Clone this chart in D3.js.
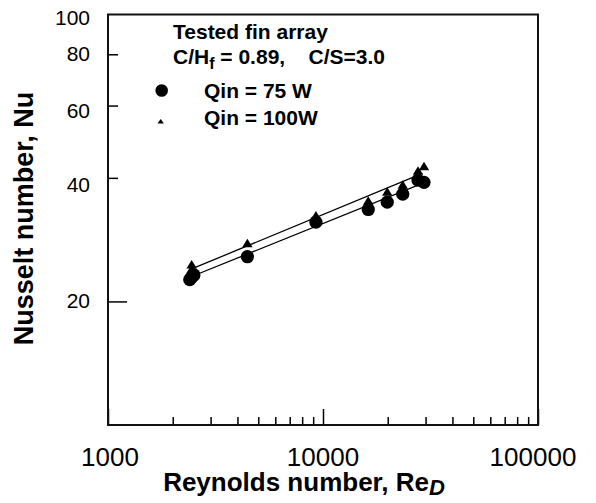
<!DOCTYPE html>
<html>
<head>
<meta charset="utf-8">
<script src="https://cdn.jsdelivr.net/npm/d3@7"></script>
<style>
  body { margin: 0; background: #fff; }
  svg { display: block; font-family: Arial, "Liberation Sans", sans-serif; }
</style>
</head>
<body>
<svg id="chart" width="596" height="503"></svg>
<script>
// data
const re75 = [2400, 2450, 2510, 4450, 9270, 16240, 19900, 23490, 27660, 29500]
const nu75 = [22.6, 22.9, 23.2, 25.7, 31.2, 33.5, 34.9, 36.5, 39.5, 39.0]
const re100 = [2450, 2450, 4450, 9270, 16240, 19900, 23490, 27660, 29500]
const nu100 = [24.6, 24.0, 27.7, 32.4, 35.2, 37.0, 38.5, 41.6, 42.7]
const fitRe = [2450, 29000]
const fitNu75 = [23.0, 38.8]
const fitNu100 = [24.0, 41.0]
const xTicks = [1000, 2000, 3000, 4000, 5000, 6000, 7000, 8000, 9000,
	10000, 20000, 30000, 40000, 50000, 60000, 70000, 80000, 90000, 100000]
const xLabels = [1000, 10000, 100000]
const yTicks = [20, 40, 60, 80]
const yLabels = [20, 40, 60, 80, 100]

const svg = d3.select("#chart")
const plotL = 108, plotR = 538, plotT = 14.5, plotB = 425

const x = d3.scaleLog().domain([1000, 100000]).range([plotL, plotR])
const y = d3.scaleLog().domain([10, 100]).range([plotB, plotT])

// x ticks, pointing inward
const xAxis = svg.append("g")
	.attr("transform", `translate(0,${plotB})`)
	.call(d3.axisBottom(x).tickValues(xTicks).tickSize(-8).tickFormat(""))
xAxis.select(".domain").remove()
xAxis.selectAll(".tick text").remove()
xAxis.selectAll(".tick line")
	.attr("stroke", "#000").attr("stroke-width", 1.5)
	.attr("y2", d => (xLabels.includes(d) ? -16 : -8))

// small nudges so the labels sit where the original put them
const xNudge = { 1000: 2, 10000: 0, 100000: -5 }
svg.append("g").attr("class", "xlabels").selectAll("text")
	.data(xLabels)
	.join("text")
	.attr("x", d => x(d) + xNudge[d])
	.attr("y", 466)
	.attr("text-anchor", "middle")
	.attr("font-size", 26)
	.attr("fill", "#000")
	.text(d => String(d))

// y ticks
const yAxis = svg.append("g")
	.attr("transform", `translate(${plotL},0)`)
	.call(d3.axisLeft(y).tickValues(yTicks).tickSize(-10).tickFormat(""))
yAxis.select(".domain").remove()
yAxis.selectAll(".tick text").remove()
yAxis.selectAll(".tick line")
	.attr("stroke", "#000").attr("stroke-width", 1.5)
	.attr("x2", d => (d === 20 ? 19 : 10))

const yNudge = { 100: 3, 80: -1, 60: 5, 40: 7, 20: -1 }
svg.append("g").selectAll("text")
	.data(yLabels)
	.join("text")
	.attr("x", 90)
	.attr("y", d => y(d) + yNudge[d])
	.attr("dy", "0.35em")
	.attr("text-anchor", "end")
	.attr("font-size", 21)
	.text(d => d)

// frame
svg.append("rect")
	.attr("x", plotL).attr("y", plotT)
	.attr("width", plotR - plotL).attr("height", plotB - plotT)
	.attr("fill", "none").attr("stroke", "#111").attr("stroke-width", 2)

// fit lines
const line = d3.line().x(d => x(d[0])).y(d => y(d[1]))
;[fitNu100, fitNu75].forEach(nu => {
	svg.append("path")
		.datum(fitRe.map((r, i) => [r, nu[i]]))
		.attr("d", line)
		.attr("fill", "none")
		.attr("stroke", "#000")
		.attr("stroke-width", 1.3)
})

const triPath = "M0,-4.5L5.2,4L-5.2,4Z"

svg.append("g").selectAll("circle")
	.data(re75.map((r, i) => [r, nu75[i]]))
	.join("circle")
	.attr("cx", d => x(d[0]))
	.attr("cy", d => y(d[1]))
	.attr("r", 6.6)
	.attr("fill", "#000")

svg.append("g").selectAll("path")
	.data(re100.map((r, i) => [r, nu100[i]]))
	.join("path")
	.attr("d", triPath)
	.attr("transform", d => `translate(${x(d[0])},${y(d[1])})`)
	.attr("fill", "#000")

// legend block
const lg = svg.append("g").attr("font-weight", "bold").attr("font-size", 21)
lg.append("text").attr("x", 173).attr("y", 39).text("Tested fin array")
const t2 = lg.append("text").attr("x", 173).attr("y", 64)
t2.append("tspan").text("C/H")
t2.append("tspan").attr("dy", 5).attr("font-size", 16).text("f")
t2.append("tspan").attr("dy", -5).text(" = 0.89,\u00a0\u00a0\u00a0\u00a0C/S=3.0")
lg.append("circle").attr("cx", 161.7).attr("cy", 90.5).attr("r", 6.3).attr("fill", "#000")
lg.append("text").attr("x", 204).attr("y", 98).text("Qin = 75 W")
lg.append("path").attr("d", "M0,-2.5L3.2,2L-3.2,2Z")
	.attr("transform", "translate(160.7,121.5)").attr("fill", "#000")
lg.append("text").attr("x", 204).attr("y", 125).text("Qin = 100W")

// axis titles
const xt = svg.append("text")
	.attr("x", 304).attr("y", 491)
	.attr("text-anchor", "middle")
	.attr("font-weight", "bold").attr("font-size", 26)
xt.append("tspan").text("Reynolds number, Re")
xt.append("tspan").attr("dy", 4).attr("font-style", "italic").attr("font-size", 22).text("D")

svg.append("text")
	.attr("transform", "translate(33,218.5) rotate(-90)")
	.attr("text-anchor", "middle")
	.attr("font-weight", "bold").attr("font-size", 27)
	.text("Nusselt number, Nu")
</script>
</body>
</html>
